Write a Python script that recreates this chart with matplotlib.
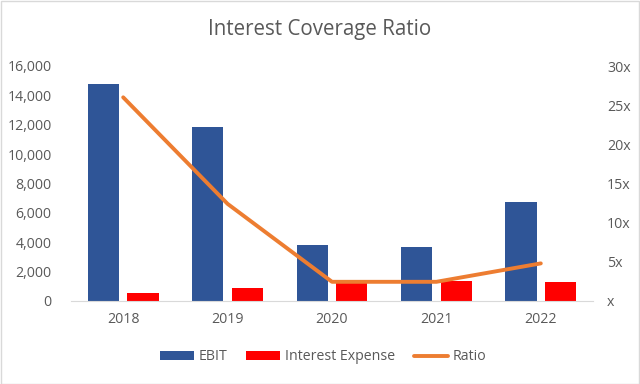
import numpy as np
import matplotlib.pyplot as plt
from matplotlib.ticker import FuncFormatter

plt.rcParams['font.family'] = ['Open Sans', 'DejaVu Sans']

years = ['2018', '2019', '2020', '2021', '2022']
ebit = [14800, 11850, 3800, 3650, 6750]
interest = [520, 900, 1280, 1340, 1300]
ratio = [26.0, 12.4, 2.45, 2.45, 4.8]

blue = '#2F5597'
red = '#FF0000'
orange = '#ED7D31'
grey = '#595959'

fig = plt.figure(figsize=(6.4, 3.84), dpi=100)
ax = fig.add_axes([71 / 640, 1 - 301 / 384, 522 / 640, 235 / 384])
ax2 = ax.twinx()

x = np.arange(len(years))
w = 0.30
ax.bar(x - 0.19, ebit, w, color=blue, label='EBIT', zorder=2)
ax.bar(x + 0.19, interest, w, color=red, label='Interest Expense', zorder=2)
ax2.plot(x, ratio, color=orange, lw=2.8, label='Ratio', solid_capstyle='round')

ax.set_xlim(-0.5, 4.5)
ax.set_ylim(0, 16000)
ax.set_yticks(np.arange(0, 16001, 2000))
ax.yaxis.set_major_formatter(FuncFormatter(lambda v, p: f'{int(v):,}'))
ax2.set_ylim(0, 30)
ax2.set_yticks(np.arange(0, 31, 5))
ax2.yaxis.set_major_formatter(FuncFormatter(lambda v, p: f'{int(v)}x' if v else 'x'))
ax.set_xticks(x)
ax.set_xticklabels(years)

for a in (ax, ax2):
    for s in a.spines.values():
        s.set_visible(False)
    a.tick_params(length=0, colors=grey, labelsize=10.2)
ax.spines['bottom'].set_visible(True)
ax.spines['bottom'].set_color('#D9D9D9')
ax.tick_params(axis='y', pad=14)
ax2.tick_params(axis='y', pad=10)
ax.tick_params(axis='x', pad=8)

fig.text(0.5, 1 - 30 / 384, 'Interest Coverage Ratio', ha='center', va='center',
         fontsize=14.8, color=grey)

h1, l1 = ax.get_legend_handles_labels()
h2, l2 = ax2.get_legend_handles_labels()
fig.legend(h1 + h2, l1 + l2, loc='center', bbox_to_anchor=(0.505, 1 - 357 / 384),
           ncol=3, frameon=False, fontsize=10.2, labelcolor=grey,
           handlelength=2.4, handleheight=0.6, columnspacing=1.3, handletextpad=0.35)

border = plt.Rectangle((0.001, 0.001), 0.998, 0.997, transform=fig.transFigure,
                       fill=False, edgecolor='#D9D9D9', lw=1)
fig.patches.append(border)

plt.savefig('out.png', dpi=100)
